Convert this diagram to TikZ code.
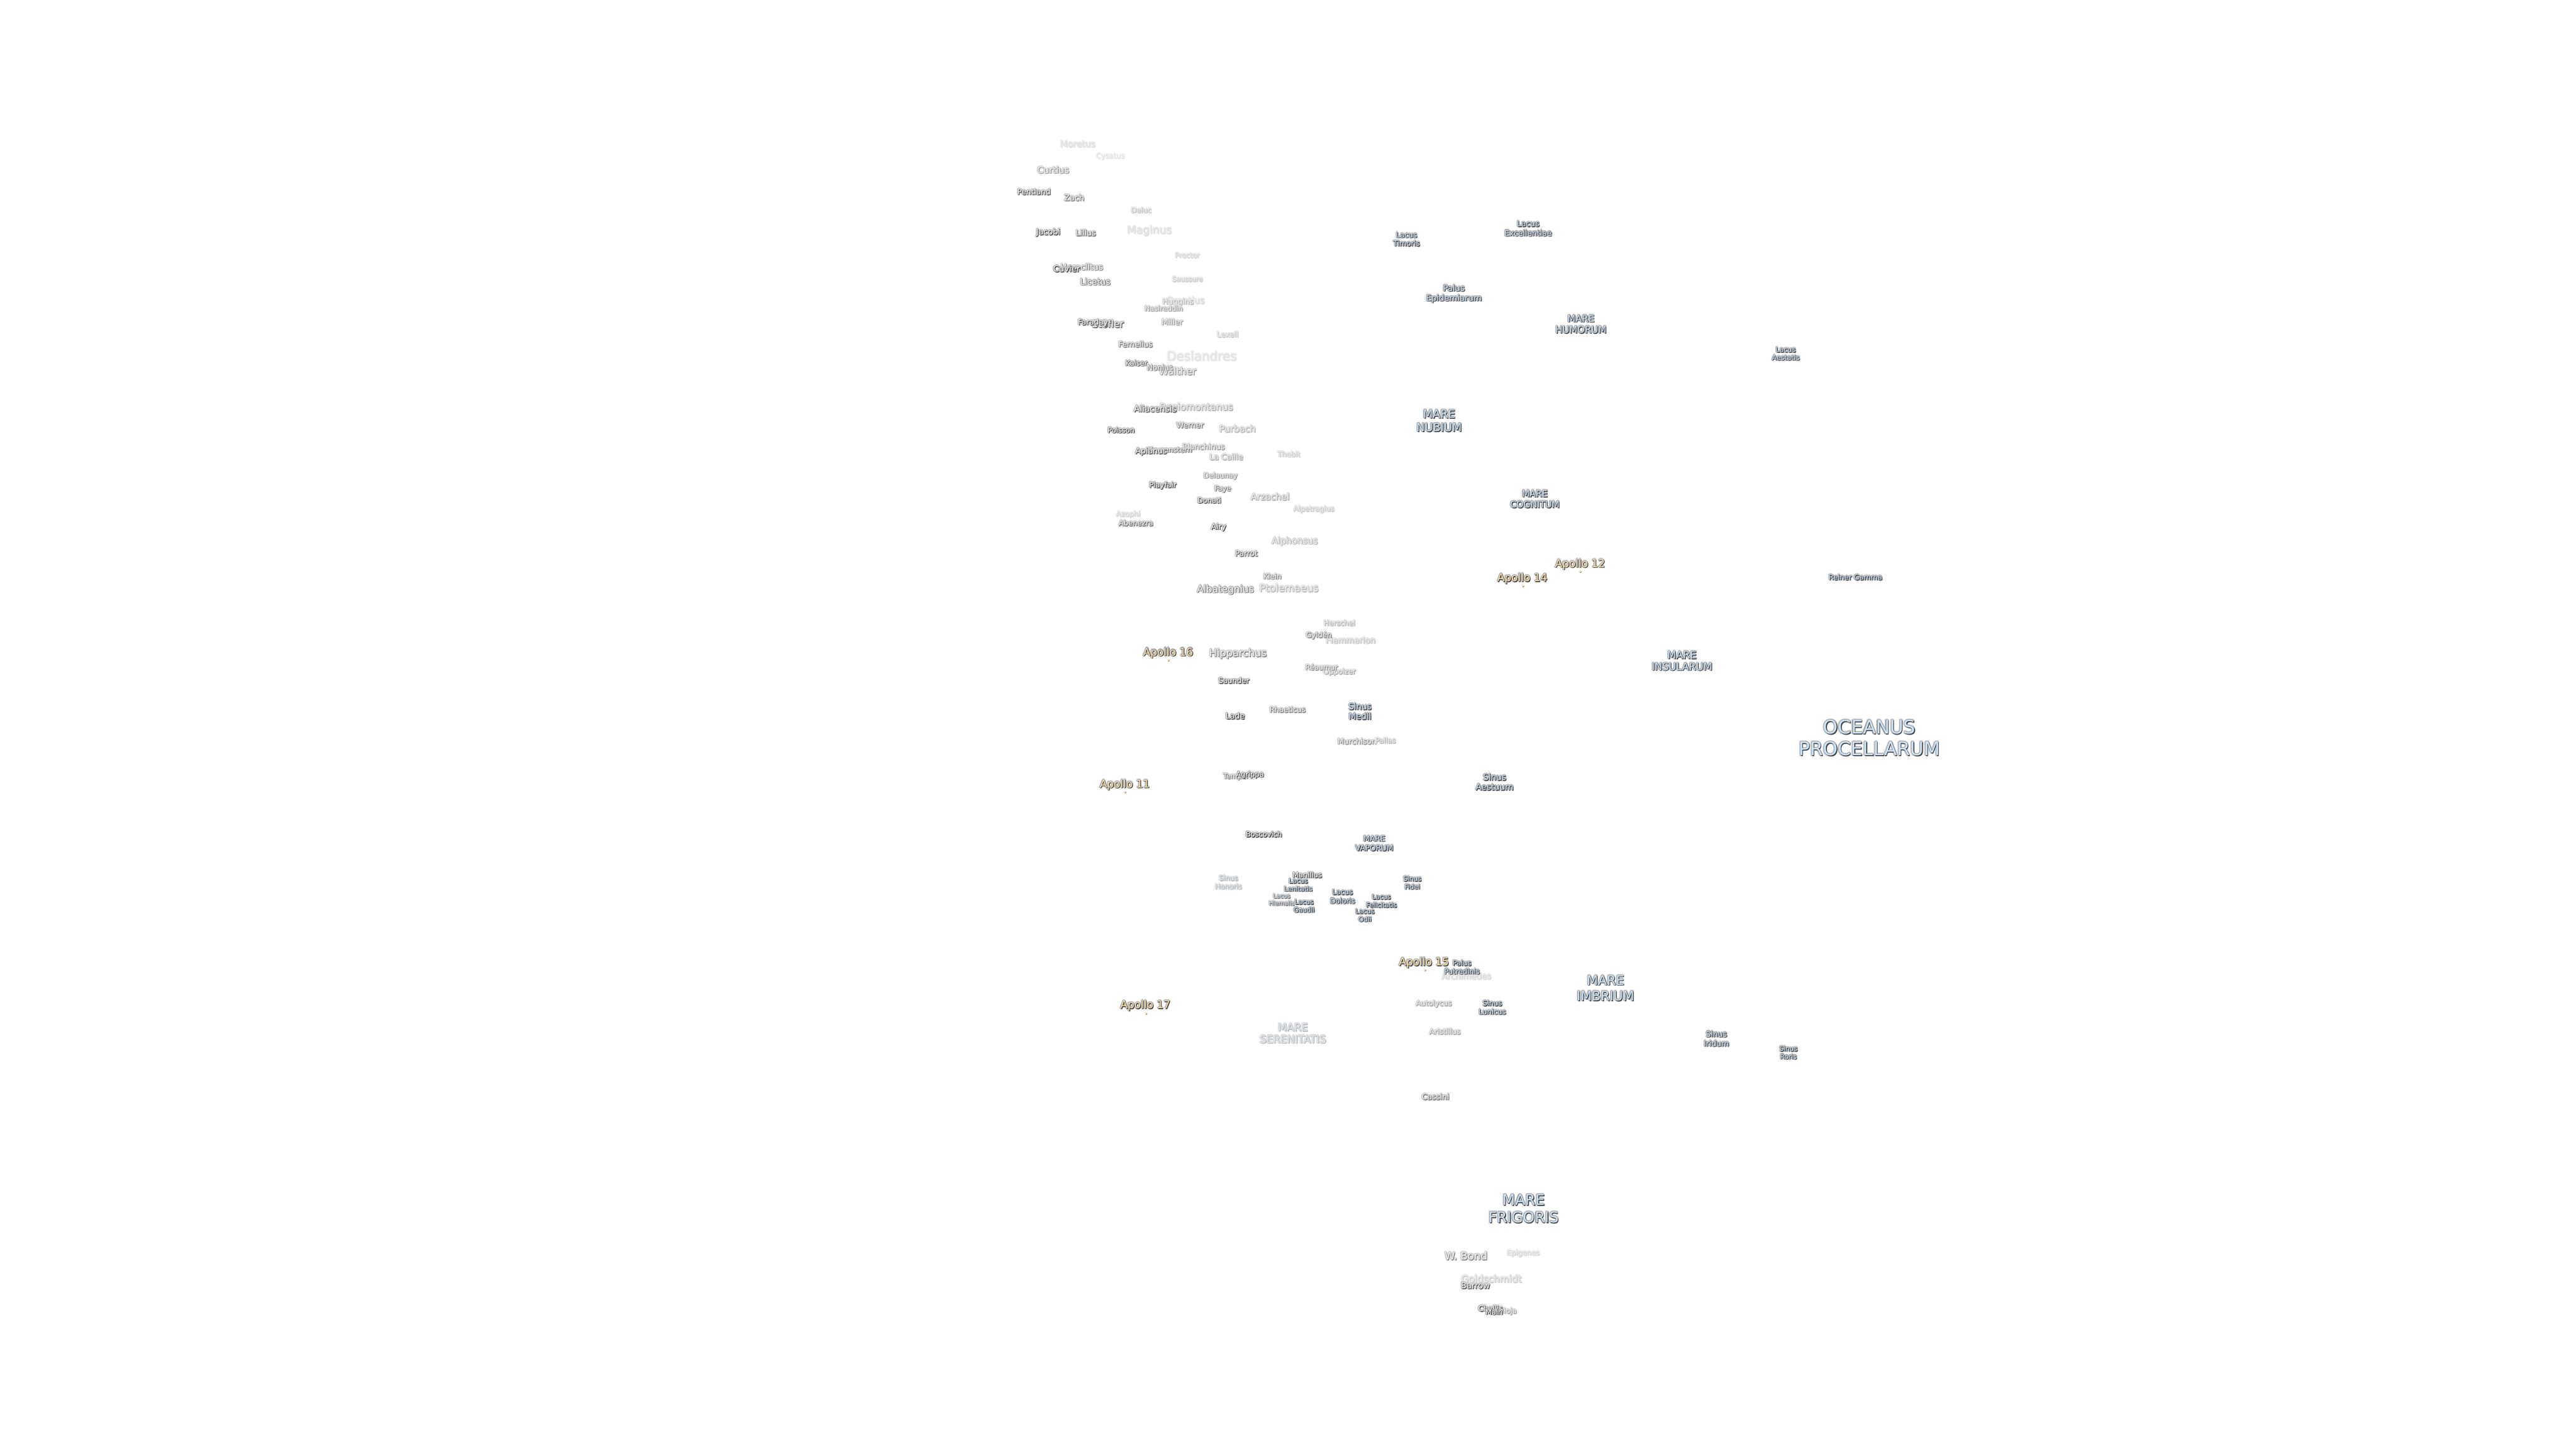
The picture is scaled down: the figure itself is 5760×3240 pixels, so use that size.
\documentclass[tikz,border=0pt]{standalone}
\usepackage{fontspec}
\setmainfont{DejaVu Sans}
\definecolor{marefill}{HTML}{CBE4FC}
\definecolor{apollofill}{HTML}{FDE1AC}
\definecolor{craterfill}{HTML}{FFFFFF}
\tikzset{
  lbltext/.style={inner sep=0pt,outer sep=0pt,align=center},
  sitedot/.style={circle,inner sep=0pt,minimum size=1.2pt,draw=none}
}
\def\lblcr{craterfill}
% name, x, y, font px, line px, fill colour, strength, text
\newcommand{\lbl}[8]{%
  \pgfmathsetmacro\lbld{#7^0.8}%
  \pgfmathsetmacro\lblo{\lbld*18}%
  \pgfmathsetmacro\lblh{\lbld*38}%
  \pgfmathsetmacro\lbls{\lbld*72}%
  \pgfmathsetmacro\lblf{#7*100}%
  \pgfmathsetmacro\lblk{100-11*(1-#7)}%
  \pgfmathsetmacro\lblfs{#4*0.25}%
  \pgfmathsetmacro\lblls{#5*0.25}%
  \def\lbltmp{#6}%
  \ifx\lbltmp\lblcr\def\lblshift{0}\else\def\lblshift{3}\fi
  \pgfmathsetmacro\lblyy{#3+\lblshift}%
  \colorlet{lblouter}{black!\lblo!white}%
  \colorlet{lblhalo}{black!\lblh!white}%
  \colorlet{lblshadow}{black!\lbls!white}%
  \colorlet{lblbase}{#6!\lblf!white}%
  \colorlet{lblfill}{lblbase!\lblk!black}%
  \tikzset{lblfont/.style={font=\fontsize{\lblfs pt}{\lblls pt}\selectfont}}%
  \foreach \lblx/\lbly in {-2.6/0,2.6/0,0/-2.6,0/2.6,-1.9/-1.9,1.9/-1.9,-1.9/1.9,1.9/1.9}{%
    \node[lbltext,lblfont,text=lblouter] at (#2+\lblx,\lblyy+\lbly) {#8};}%
  \foreach \lblx/\lbly in {-1.3/0,1.3/0,0/-1.3,0/1.3}{%
    \node[lbltext,lblfont,text=lblhalo] at (#2+\lblx,\lblyy+\lbly) {#8};}%
  \node[lbltext,lblfont,text=lblshadow] at (#2+1,\lblyy+1) {#8};%
  \node[lbltext,lblfont,text=lblshadow] at (#2+1.7,\lblyy+1.9) {#8};%
  \node[lbltext,lblfont,text=lblfill] (#1) at (#2,\lblyy) {#8};%
}
\newcommand{\site}[3]{%
  \node[sitedot,fill=black!55] at (#2+0.9,#3+3.9) {};
  \node[sitedot,fill=apollofill] (#1) at (#2,#3+3) {};
}
\begin{document}
\begin{tikzpicture}[x=0.25pt,y=-0.25pt]
\useasboundingbox (0,0) rectangle (5760,3240);
\fill[white] (0,0) rectangle (5760,3240);
% southern highlands
\lbl{moretus}{2410}{322}{19.5}{22}{craterfill}{.10}{Moretus}
\lbl{cysatus}{2483}{350}{16}{18}{craterfill}{.06}{Cysatus}
\lbl{curtius}{2355}{380}{20}{22}{craterfill}{.5}{Curtius}
\lbl{pentland}{2312}{429}{17}{19}{craterfill}{.8}{Pentland}
\lbl{zach}{2402}{442}{18}{20}{craterfill}{.6}{Zach}
\lbl{deluc}{2552}{470}{16}{18}{craterfill}{.25}{Deluc}
\lbl{maginus}{2570}{516}{24}{26}{craterfill}{.1}{Maginus}
\lbl{jacobi}{2344}{520}{18}{20}{craterfill}{.9}{Jacobi}
\lbl{lilius}{2428}{521}{17.6}{20}{craterfill}{.7}{Lilius}
\lbl{proctor}{2655}{571}{15.5}{18}{craterfill}{.15}{Proctor}
\lbl{heraclitus}{2419}{597}{18.8}{21}{craterfill}{.6}{Heraclitus}
\lbl{cuvier}{2385}{601}{18.6}{21}{craterfill}{1}{Cuvier}
\lbl{saussure}{2655}{624}{15}{17}{craterfill}{.2}{Saussure}
\lbl{licetus}{2449}{630}{19}{21}{craterfill}{.7}{Licetus}
\lbl{orontius}{2651}{672}{20}{22}{craterfill}{.12}{Orontius}
\lbl{huggins}{2634}{676}{17}{19}{craterfill}{.3}{Huggins}
\lbl{nasireddin}{2602}{690}{16}{18}{craterfill}{.45}{Nasireddin}
\lbl{stofler}{2477}{724}{21.6}{24}{craterfill}{.8}{Stöfler}
\lbl{faraday}{2444}{722}{17}{19}{craterfill}{.85}{Faraday}
\lbl{miller}{2621}{720}{17.7}{20}{craterfill}{.4}{Miller}
\lbl{lexell}{2745}{748}{16.7}{19}{craterfill}{.2}{Lexell}
\lbl{fernelius}{2539}{770}{17}{19}{craterfill}{.6}{Fernelius}
\lbl{deslandres}{2687}{796}{28}{31}{craterfill}{.07}{Deslandres}
\lbl{walther}{2633}{830}{21.6}{24}{craterfill}{.45}{Walther}
\lbl{kaiser}{2541}{812}{16}{18}{craterfill}{.85}{Kaiser}
\lbl{nonius}{2594}{822}{17}{19}{craterfill}{.65}{Nonius}
\lbl{regiomontanus}{2675}{912}{21}{23}{craterfill}{.35}{Regiomontanus}
\lbl{aliacensis}{2583}{914}{19}{21}{craterfill}{.8}{Aliacensis}
\lbl{werner}{2661}{951}{17}{19}{craterfill}{.6}{Werner}
\lbl{purbach}{2767}{959}{20}{22}{craterfill}{.3}{Purbach}
\lbl{poisson}{2507}{962}{16}{18}{craterfill}{1}{Poisson}
\lbl{blanchinus}{2691}{999}{17.4}{19}{craterfill}{.45}{Blanchinus}
\lbl{krusenstern}{2616}{1006}{16.3}{18}{craterfill}{.7}{Krusenstern}
\lbl{apianus}{2574}{1010}{17.6}{20}{craterfill}{.85}{Apianus}
\lbl{lacaille}{2742}{1022}{17.6}{20}{craterfill}{.35}{La Caille}
\lbl{thebit}{2882}{1016}{16}{18}{craterfill}{.2}{Thebit}
\lbl{delaunay}{2729}{1065}{16}{18}{craterfill}{.5}{Delaunay}
\lbl{playfair}{2600}{1086}{16.3}{18}{craterfill}{.9}{Playfair}
\lbl{faye}{2734}{1094}{16}{18}{craterfill}{.7}{Faye}
\lbl{donati}{2704}{1119}{16}{18}{craterfill}{.85}{Donati}
\lbl{arzachel}{2840}{1111}{20}{22}{craterfill}{.35}{Arzachel}
\lbl{alpetragius}{2938}{1139}{16}{18}{craterfill}{.2}{Alpetragius}
\lbl{azophi}{2523}{1151}{16}{18}{craterfill}{.15}{Azophi}
\lbl{abenezra}{2540}{1170}{16.3}{18}{craterfill}{.7}{Abenezra}
\lbl{airy}{2725}{1179}{17}{19}{craterfill}{.9}{Airy}
\lbl{alphonsus}{2895}{1211}{20}{22}{craterfill}{.3}{Alphonsus}
\lbl{parrot}{2787}{1238}{17}{19}{craterfill}{.7}{Parrot}
\lbl{klein}{2845}{1289}{16.3}{18}{craterfill}{.6}{Klein}
\lbl{ptolemaeus}{2882}{1315}{22.6}{25}{craterfill}{.3}{Ptolemaeus}
\lbl{albategnius}{2740}{1319}{21.5}{24}{craterfill}{.65}{Albategnius}
\lbl{herschel}{2995}{1393}{16}{18}{craterfill}{.3}{Herschel}
\lbl{flammarion}{3020}{1432}{18.6}{21}{craterfill}{.25}{Flammarion}
\lbl{gylden}{2949}{1421}{16.2}{18}{craterfill}{.6}{Gyldén}
\lbl{hipparchus}{2768}{1462}{22.7}{25}{craterfill}{.6}{Hipparchus}
\lbl{oppolzer}{2995}{1503}{16.2}{18}{craterfill}{.35}{Oppolzer}
\lbl{reaumur}{2955}{1492}{16}{18}{craterfill}{.5}{Réaumur}
\lbl{saunder}{2759}{1522}{16.5}{18}{craterfill}{.9}{Saunder}
\lbl{rhaeticus}{2879}{1587}{16.3}{18}{craterfill}{.6}{Rhaeticus}
\lbl{lade}{2762}{1601}{17.5}{20}{craterfill}{1}{Lade}
\lbl{murchison}{3034}{1658}{17}{19}{craterfill}{.5}{Murchison}
\lbl{pallas}{3098}{1656}{16}{18}{craterfill}{.3}{Pallas}
\lbl{tempel}{2763}{1737}{15.6}{18}{craterfill}{.6}{Tempel}
\lbl{agrippa}{2795}{1733}{16}{18}{craterfill}{1}{Agrippa}
\lbl{boscovich}{2826}{1866}{16}{18}{craterfill}{1}{Boscovich}
\lbl{manilius}{2923}{1957}{16}{18}{craterfill}{.9}{Manilius}
\lbl{archimedes}{3279}{2183}{18.8}{21}{craterfill}{.15}{Archimedes}
\lbl{autolycus}{3206}{2245}{16.4}{18}{craterfill}{.4}{Autolycus}
\lbl{aristillus}{3231}{2307}{16.3}{18}{craterfill}{.4}{Aristillus}
\lbl{cassini}{3210}{2453}{17.3}{19}{craterfill}{.65}{Cassini}
\lbl{wbond}{3278}{2809}{23.4}{26}{craterfill}{.55}{W. Bond}
\lbl{epigenes}{3406}{2803}{16}{18}{craterfill}{.15}{Epigenes}
\lbl{goldschmidt}{3335}{2860}{21.5}{24}{craterfill}{.2}{Goldschmidt}
\lbl{barrow}{3299}{2875}{18.5}{21}{craterfill}{.85}{Barrow}
\lbl{gioja}{3371}{2933}{16}{18}{craterfill}{.4}{Gioja}
\lbl{challis}{3333}{2926}{16.7}{19}{craterfill}{.9}{Challis}
\lbl{main}{3341}{2934}{16}{18}{craterfill}{1}{Main}
% maria, lacus, sinus, paludes
\lbl{oceanus}{4180}{1647}{42}{48.7}{marefill}{1}{OCEANUS\\PROCELLARUM}
\lbl{frigoris}{3407}{2700}{33}{38.7}{marefill}{1}{MARE\\FRIGORIS}
\lbl{imbrium}{3590}{2207}{29}{35}{marefill}{1}{MARE\\IMBRIUM}
\lbl{serenitatis}{2891}{2308}{23.5}{27}{marefill}{.3}{MARE\\SERENITATIS}
\lbl{nubium}{3218}{938}{25}{30}{marefill}{1}{MARE\\NUBIUM}
\lbl{humorum}{3535}{722}{21}{24.7}{marefill}{1}{MARE\\HUMORUM}
\lbl{cognitum}{3432}{1113}{20}{24}{marefill}{1}{MARE\\COGNITUM}
\lbl{insularum}{3761}{1475}{22.7}{26}{marefill}{1}{MARE\\INSULARUM}
\lbl{vaporum}{3073}{1883}{17}{21}{marefill}{1}{MARE\\VAPORUM}
\lbl{timoris}{3145}{532}{16.3}{19}{marefill}{1}{Lacus\\Timoris}
\lbl{excellentiae}{3417}{508}{17.4}{21}{marefill}{1}{Lacus\\Excellentiae}
\lbl{epidemiarum}{3251}{654}{18.6}{22}{marefill}{1}{Palus\\Epidemiarum}
\lbl{aestatis}{3993}{788}{15.5}{18}{marefill}{1}{Lacus\\Aestatis}
\lbl{reiner}{4149}{1288}{16}{18}{marefill}{1}{Reiner Gamma}
\lbl{medii}{3041}{1588}{19}{22}{marefill}{1}{Sinus\\Medii}
\lbl{aestuum}{3342}{1746}{19}{22}{marefill}{1}{Sinus\\Aestuum}
\lbl{lenitatis}{2903}{1976}{14.8}{18}{marefill}{1}{Lacus\\Lenitatis}
\lbl{hiemalis}{2866}{2009}{13.3}{16}{marefill}{.7}{Lacus\\Hiemalis}
\lbl{gaudii}{2916}{2023}{14.6}{18}{marefill}{1}{Lacus\\Gaudii}
\lbl{doloris}{3002}{2002}{16}{20}{marefill}{1}{Lacus\\Doloris}
\lbl{felicitatis}{3089}{2012}{14.5}{18}{marefill}{1}{Lacus\\Felicitatis}
\lbl{odii}{3052}{2044}{14.7}{18}{marefill}{1}{Lacus\\Odii}
\lbl{fidei}{3158}{1971}{14.9}{18}{marefill}{1}{Sinus\\Fidei}
\lbl{honoris}{2747}{1970}{15.7}{19}{marefill}{.3}{Sinus\\Honoris}
\lbl{putredinis}{3269}{2160}{16}{19}{marefill}{1}{Palus\\Putredinis}
\lbl{lunicus}{3337}{2250}{16}{19}{marefill}{1}{Sinus\\Lunicus}
\lbl{iridum}{3838}{2320}{17.4}{21}{marefill}{1}{Sinus\\Iridum}
\lbl{roris}{3999}{2351}{15}{18}{marefill}{1}{Sinus\\Roris}
% landing sites
\lbl{apollotwelve}{3533}{1259}{23.8}{26}{apollofill}{1}{Apollo 12}
\site{sitetwelve}{3533}{1275}
\lbl{apollofourteen}{3404}{1291}{23.8}{26}{apollofill}{1}{Apollo 14}
\site{sitefourteen}{3405}{1307}
\lbl{apollosixteen}{2612}{1457}{23.8}{26}{apollofill}{1}{Apollo 16}
\site{sitesixteen}{2612}{1473}
\lbl{apolloeleven}{2515}{1752}{23.8}{26}{apollofill}{1}{Apollo 11}
\site{siteeleven}{2515}{1768}
\lbl{apollofifteen}{3184}{2150}{23.8}{26}{apollofill}{1}{Apollo 15}
\site{sitefifteen}{3186}{2166}
\lbl{apolloseventeen}{2561}{2246}{23.8}{26}{apollofill}{1}{Apollo 17}
\site{siteseventeen}{2562}{2263}
\end{tikzpicture}
\end{document}
